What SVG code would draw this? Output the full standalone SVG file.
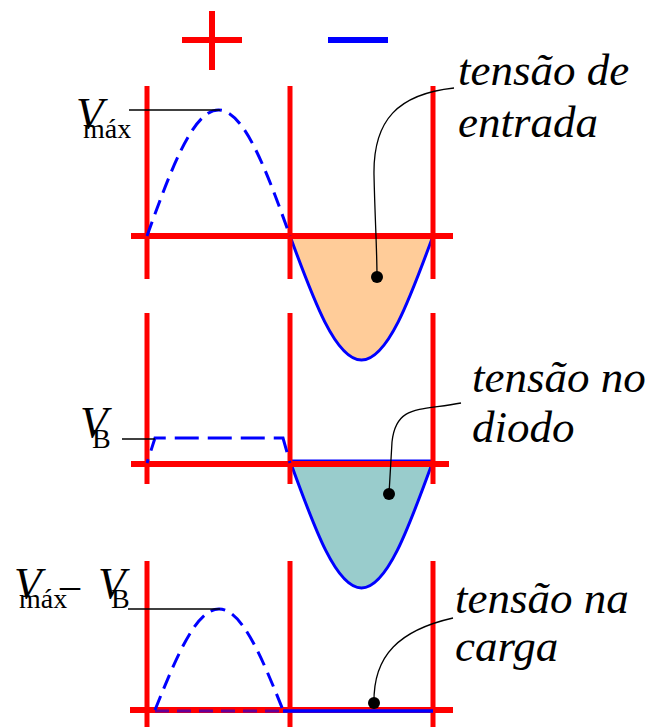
<svg xmlns="http://www.w3.org/2000/svg" width="653" height="727" viewBox="0 0 653 727">
<style>
.red{stroke:#ff0000;stroke-width:5;fill:none}
.axis{stroke:#ff0000;stroke-width:6;fill:none}
.wave{stroke:#0000ff;stroke-width:3;fill:none}
.dash{stroke-dasharray:15 8}
.dash2{stroke-dasharray:24 9}
.lead{stroke:#000;stroke-width:1.3;fill:none}
.lbl{font-family:"Liberation Serif","Times New Roman",serif;font-style:italic;font-size:45px;fill:#000}
.sym{font-family:"Liberation Serif","Times New Roman",serif;fill:#000}
.v{font-style:italic;font-size:45px}
.sub{font-style:normal;font-size:28px}
</style>
<rect width="653" height="727" fill="#fff"/>
<g id="signs">
<line x1="182" y1="40" x2="242" y2="40" stroke="#ff0000" stroke-width="6"/>
<line x1="212" y1="11" x2="212" y2="70" stroke="#ff0000" stroke-width="6"/>
<line x1="328" y1="40" x2="388" y2="40" stroke="#0000ff" stroke-width="6"/>
</g>
<g id="panel-entrada">
<path d="M290,236 C313.3,299.5 335.6,360 361.5,360 C387.4,360 409.7,299.5 433,236 Z" fill="#ffcc99" stroke="#0000ff" stroke-width="3"/>
<line class="red" x1="147" y1="86" x2="147" y2="279"/>
<line class="red" x1="290" y1="86" x2="290" y2="279"/>
<line class="red" x1="433" y1="86" x2="433" y2="279"/>
<line class="axis" x1="131" y1="236" x2="453" y2="236"/>
<path class="wave dash" d="M147,236 C170.3,171.4 192.6,110 218.5,110 C244.4,110 266.7,171.4 290,236"/>
<line class="lead" x1="129" y1="110" x2="220" y2="110"/>
<text class="sym" x="76" y="128"><tspan class="v">V</tspan><tspan class="sub" x="83" y="138">máx</tspan></text>
</g>
<g id="panel-diodo">
<path d="M290,461 C313.3,525 335.6,588 361.5,588 C387.4,588 409.7,525 433,461 Z" fill="#99cccc" stroke="#0000ff" stroke-width="3"/>
<line class="red" x1="147" y1="313" x2="147" y2="484"/>
<line class="red" x1="290" y1="313" x2="290" y2="484"/>
<line class="red" x1="433" y1="313" x2="433" y2="484"/>
<line class="axis" x1="131" y1="464" x2="449" y2="464"/>
<path class="wave dash2" d="M147,463 L155,438 L283,438 L290,463" stroke-dashoffset="20"/>
<line class="lead" x1="122" y1="439" x2="155" y2="439"/>
<text class="sym" x="80" y="437"><tspan class="v">V</tspan><tspan class="sub" x="92" y="448">B</tspan></text>
</g>
<g id="panel-carga">
<line class="red" x1="147" y1="561" x2="147" y2="727"/>
<line class="red" x1="290" y1="561" x2="290" y2="727"/>
<line class="red" x1="433" y1="561" x2="433" y2="727"/>
<line class="axis" x1="130" y1="710" x2="453" y2="710"/>
<line x1="155" y1="711" x2="283" y2="711" stroke="#0000ff" stroke-width="3" stroke-dasharray="14 8" opacity="0.6"/>
<line x1="283" y1="711" x2="433" y2="711" stroke="#0000ff" stroke-width="3.5"/>
<path class="wave dash" d="M155,710 C175.9,658.3 195.8,609 219,609 C242.2,609 262.1,658.3 283,710"/>
<line class="lead" x1="128" y1="609" x2="220" y2="609"/>
<text class="sym" x="14" y="598"><tspan class="v">V</tspan><tspan class="sub" x="19" y="608">máx</tspan><tspan x="60" y="598" style="font-size:40px">–</tspan><tspan class="v" x="98" y="598">V</tspan><tspan class="sub" x="111" y="608">B</tspan></text>
</g>
<g id="connectors">
<path class="lead" d="M454,88 C398,94 373,120 374,175 C375,220 377,250 377,277"/>
<circle cx="377" cy="277" r="6" fill="#000"/>
<path class="lead" d="M461,403 C420,411 396,404 392,442 L389,494"/>
<circle cx="389" cy="494" r="6" fill="#000"/>
<path class="lead" d="M453,618 C400,630 373,655 374,703"/>
<circle cx="374" cy="703" r="6" fill="#000"/>
</g>
<g id="labels">
<text class="lbl" x="458" y="85">tensão de</text>
<text class="lbl" x="458" y="137">entrada</text>
<text class="lbl" x="472" y="392">tensão no</text>
<text class="lbl" x="472" y="442">diodo</text>
<text class="lbl" x="455" y="613">tensão na</text>
<text class="lbl" x="455" y="661">carga</text>
</g>
</svg>
